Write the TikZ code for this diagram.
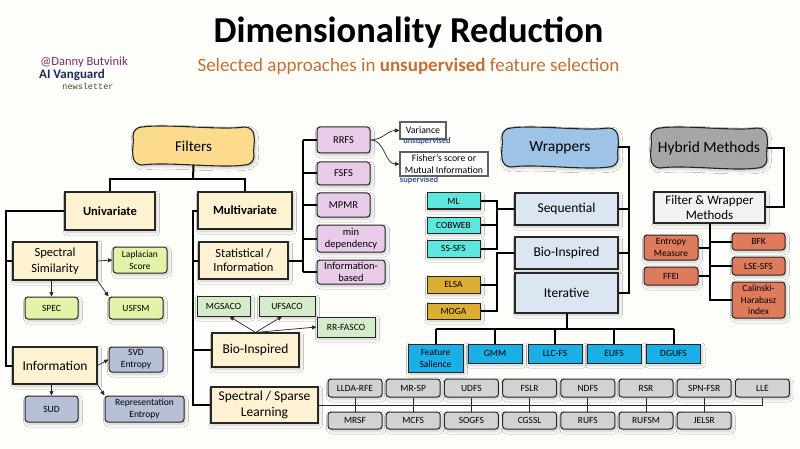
\documentclass[tikz,border=0pt]{standalone}
\usepackage{fontspec}
\setmainfont{Carlito}
\newfontfamily\newsfont{Liberation Mono}
\usetikzlibrary{arrows.meta,shadows.blur}

\definecolor{pagebg}{HTML}{FDFDFA}
\definecolor{filtyel}{HTML}{FCDC8C}
\definecolor{cream}{HTML}{FFF2D2}
\definecolor{limegr}{HTML}{E2F4A8}
\definecolor{slate}{HTML}{B6BFD6}
\definecolor{lilac}{HTML}{E8CBE8}
\definecolor{mint}{HTML}{D5ECCB}
\definecolor{aqua}{HTML}{5CE6DE}
\definecolor{gold}{HTML}{DCAE34}
\definecolor{paleblue}{HTML}{DCE6F2}
\definecolor{wrapblue}{HTML}{9DC3E6}
\definecolor{skyblue}{HTML}{1AAFE6}
\definecolor{hybgray}{HTML}{A6A6A6}
\definecolor{fwgray}{HTML}{F2F2F2}
\definecolor{coral}{HTML}{DE7B5C}
\definecolor{lgray}{HTML}{D2D2D2}
\definecolor{subtit}{HTML}{C47032}
\definecolor{danny}{HTML}{7A2B5C}
\definecolor{vanguard}{HTML}{1F2A5C}
\definecolor{newsbrown}{HTML}{5A4030}
\definecolor{labblue}{HTML}{325A8C}

\tikzset{
  shade box/.style={blur shadow={shadow blur steps=6, shadow xshift=1.5pt, shadow yshift=-2pt, shadow opacity=22, shadow blur radius=3pt}},
  box/.style={draw=black!85, line width=1.1pt, fill=cream, inner sep=1pt, align=center,
    font=\fontsize{12.5}{16}\selectfont, shade box},
  boldbox/.style={box, font=\bfseries\fontsize{12.5}{15}\selectfont},
  wavytext/.style={inner sep=1pt, font=\fontsize{15.5}{18}\selectfont},
  wavyline/.style={draw=black!85, line width=1.1pt, shade box},
  leaf/.style={draw=black!85, line width=1pt, rounded corners=3pt, inner sep=1pt, align=center,
    font=\fontsize{9.5}{12}\selectfont, shade box},
  leafsq/.style={leaf, rounded corners=0pt},
  gbox/.style={leaf, fill=lgray, minimum width=54, minimum height=18},
  note/.style={draw=gray!75!black, line width=1.1pt, fill=white, inner sep=1pt, align=center,
    font=\fontsize{9.8}{11.5}\selectfont},
  lbl/.style={text=labblue, font=\bfseries\fontsize{8.5}{10}\selectfont, inner sep=0pt},
  tree/.style={line width=2pt, black},
  thin line/.style={line width=0.9pt, black!85},
  arr/.style={-{Triangle[length=4.5pt,width=4pt]}, line width=0.7pt, black!85}
}

% hand drawn frame: centre x, centre y, width, height, fill
\newcommand{\wavyframe}[5]{%
  \filldraw[wavyline, fill=#5]
    ({#1-#3/2+9},{#2-#4/2})
      .. controls +(25pt,3.5pt) and +(-25pt,-3.5pt) .. ({#1+#3/2-9},{#2-#4/2})
      .. controls +(5pt,0pt) and +(0pt,5pt) .. ({#1+#3/2},{#2-#4/2+9})
      .. controls +(1.5pt,-6pt) and +(-1.5pt,6pt) .. ({#1+#3/2},{#2+#4/2-9})
      .. controls +(0pt,-5pt) and +(5pt,0pt) .. ({#1+#3/2-9},{#2+#4/2})
      .. controls +(-25pt,-3.5pt) and +(25pt,3.5pt) .. ({#1-#3/2+9},{#2+#4/2})
      .. controls +(-5pt,0pt) and +(0pt,-5pt) .. ({#1-#3/2},{#2+#4/2-9})
      .. controls +(-1.5pt,6pt) and +(1.5pt,-6pt) .. ({#1-#3/2},{#2-#4/2+9})
      .. controls +(0pt,5pt) and +(-5pt,0pt) .. ({#1-#3/2+9},{#2-#4/2}) -- cycle;}

\begin{document}
\begin{tikzpicture}[x=1pt,y=-1pt]
\fill[pagebg] (0,0) rectangle (800,449);
\useasboundingbox (0,0) rectangle (800,449);

% Titel
\node[anchor=base, font=\bfseries\fontsize{36.5}{40}\selectfont] (title) at (408.5,43) {Dimensionality Reduction};
\node[anchor=base, text=subtit, font=\fontsize{19}{22}\selectfont] (subtitle) at (408.5,72)
  {Selected approaches in \textbf{unsupervised} feature selection};
\node[text=danny, font=\fontsize{12.5}{14}\selectfont, inner sep=0pt] (author) at (84,62) {@Danny Butvinik};
\node[text=vanguard, font=\bfseries\fontsize{13}{15}\selectfont, inner sep=0pt] (vang) at (72,75) {AI Vanguard};
\node[text=newsbrown, font=\newsfont\fontsize{8.5}{10}\selectfont, inner sep=0pt] (news) at (88,86) {newsletter};

% Filters
\wavyframe{193.5}{146}{121}{38}{filtyel}
\node[wavytext, font=\fontsize{15}{18}\selectfont, minimum width=121, minimum height=38] (filt) at (193.5,146) {Filters};
\node[boldbox, minimum width=90, minimum height=38] (uni) at (110,211) {Univariate};
\node[boldbox, minimum width=94, minimum height=37] (multi) at (245,210.5) {Multivariate};

\node[box, minimum width=84, minimum height=38] (spec) at (55,261) {Spectral\\Similarity};
\node[leaf, fill=limegr, minimum width=54, minimum height=26] (lapl) at (140,260) {Laplacian\\Score};
\node[leaf, fill=limegr, minimum width=53, minimum height=22] (spc) at (51.5,308) {SPEC};
\node[leaf, fill=limegr, minimum width=54, minimum height=22] (usf) at (136,308) {USFSM};

\node[box, font=\fontsize{13.5}{16}\selectfont, minimum width=84, minimum height=37] (info) at (55,365.5) {Information};
\node[leaf, fill=slate, minimum width=54, minimum height=25] (svd) at (136,359.5) {SVD\\Entropy};
\node[leaf, fill=slate, minimum width=53, minimum height=26] (sud) at (51.5,409) {SUD};
\node[leaf, fill=slate, minimum width=79, minimum height=26] (rep) at (144.5,409) {Representation\\Entropy};

\node[box, font=\fontsize{12.5}{14}\selectfont, minimum width=89, minimum height=37] (stat) at (243.5,260.5) {Statistical /\\Information};
\node[leaf, fill=lilac, font=\fontsize{10.5}{12}\selectfont, minimum width=53, minimum height=26] (rrfs) at (343.5,140) {RRFS};
\node[leaf, fill=lilac, font=\fontsize{10.5}{12}\selectfont, minimum width=53, minimum height=23] (fsfs) at (343.5,173.5) {FSFS};
\node[leaf, fill=lilac, font=\fontsize{10.5}{12}\selectfont, minimum width=53, minimum height=24] (mpmr) at (343.5,205) {MPMR};
\node[leaf, fill=lilac, font=\fontsize{10.5}{12}\selectfont, minimum width=68, minimum height=27] (mind) at (351,238.5) {min\\dependency};
\node[leaf, fill=lilac, font=\fontsize{10.5}{12}\selectfont, minimum width=68, minimum height=24] (ibased) at (351,272) {Information-\\based};

\node[note, minimum width=46, minimum height=17] (var) at (423,130.5) {Variance};
\node[lbl] (unsup) at (427,141.5) {unsupervised};
\node[note, minimum width=88, minimum height=24] (fish) at (444,164) {Fisher's score or\\Mutual Information};
\node[lbl] (sup) at (419,180.5) {supervised};

\node[box, font=\fontsize{13.5}{16}\selectfont, minimum width=87, minimum height=34] (bioL) at (255.5,350) {Bio-Inspired};
\node[leafsq, fill=mint, minimum width=53, minimum height=20] (mgs) at (223.5,306) {MGSACO};
\node[leafsq, fill=mint, minimum width=56, minimum height=20] (ufs) at (287,306) {UFSACO};
\node[leafsq, fill=mint, minimum width=58, minimum height=20] (rrf) at (346,327) {RR-FASCO};

\node[box, font=\fontsize{13.5}{16}\selectfont, minimum width=107, minimum height=36] (sparse) at (264.5,405) {Spectral / Sparse\\Learning};
\foreach \ga/\gb [count=\i from 0] in {LLDA-RFE/MRSF, MR-SP/MCFS, UDFS/SOGFS, FSLR/CGSSL, NDFS/RUFS, RSR/RUFSM, SPN-FSR/JELSR}{
  \node[gbox] (t\i) at ({355+58.2*\i},388) {\ga};
  \node[gbox, minimum height=17] (b\i) at ({355+58.2*\i},420.5) {\gb};
}
\node[gbox] (lle) at (762.4,388) {LLE};

% Wrappers
\wavyframe{560}{147.5}{116}{39}{wrapblue}
\node[wavytext, minimum width=116, minimum height=39] (wrap) at (560,147.5) {Wrappers};
\node[box, fill=paleblue, font=\fontsize{13.5}{16}\selectfont, minimum width=103, minimum height=32] (seq) at (566.5,209) {Sequential};
\node[box, fill=paleblue, font=\fontsize{13.5}{16}\selectfont, minimum width=103, minimum height=32] (bioR) at (566.5,253) {Bio-Inspired};
\node[box, fill=paleblue, font=\fontsize{13.5}{16}\selectfont, minimum width=103, minimum height=40] (iter) at (566.5,293) {Iterative};

\node[leafsq, fill=aqua, minimum width=53, minimum height=16] (ml) at (453.5,201) {ML};
\node[leafsq, fill=aqua, minimum width=53, minimum height=16] (cob) at (453.5,225) {COBWEB};
\node[leafsq, fill=aqua, minimum width=53, minimum height=17] (ssf) at (453.5,248.5) {SS-SFS};
\node[leafsq, fill=gold, minimum width=53, minimum height=17] (elsa) at (453.5,284.5) {ELSA};
\node[leafsq, fill=gold, minimum width=53, minimum height=16] (moga) at (453.5,311) {MOGA};

\node[leafsq, fill=skyblue, minimum width=55, minimum height=28] (fsal) at (435.5,358) {Feature\\Salience};
\foreach \n/\t/\x in {gmm/GMM/495, llc/LLC-FS/555, eufs/EUFS/614, dgu/DGUFS/673.5}
  \node[leafsq, fill=skyblue, minimum width=54, minimum height=19] (\n) at (\x,353.5) {\t};

% Hybrid
\wavyframe{709}{148}{116}{40}{hybgray}
\node[wavytext, minimum width=116, minimum height=40] (hyb) at (709,148) {Hybrid Methods};
\node[box, fill=fwgray, font=\fontsize{13}{15}\selectfont, minimum width=111, minimum height=31] (fw) at (709.5,207.5) {Filter \& Wrapper\\Methods};
\node[leaf, fill=coral, minimum width=54, minimum height=25] (entm) at (671,247.5) {Entropy\\Measure};
\node[leaf, fill=coral, minimum width=54, minimum height=18] (ffei) at (671,276) {FFEI};
\node[leaf, fill=coral, minimum width=53, minimum height=17] (bfk) at (758.5,241.5) {BFK};
\node[leaf, fill=coral, minimum width=53, minimum height=18] (lse) at (758.5,266) {LSE-SFS};
\node[leaf, fill=coral, font=\fontsize{9.5}{11.5}\selectfont, minimum width=53, minimum height=36] (cal) at (758.5,300) {Calinski-\\Harabasz\\index};

% Verbindungen Filters
\coordinate (fj) at (193,179);
\coordinate (mx) at (193,0);
\coordinate (px) at (303,0);
\draw[tree] (filt.south) -- (fj);
\draw[tree] (uni.north) |- (fj) -| (multi.north);
\draw[tree] (uni.west) -| ([xshift=-6]info.west) -- (info.west);
\draw[tree] (spec.west) -- ++(-6,0);
\draw[tree] (multi.west) -| (sparse.west -| mx) -- (sparse.west);
\draw[tree] (stat.west) -- (stat.west -| mx);
\draw[tree] (bioL.west) -- (bioL.west -| mx);
\draw[tree] (stat.east) -- (stat.east -| px);
\draw[tree] (rrfs.west -| px) -- (ibased.west -| px);
\foreach \n in {rrfs,fsfs,mpmr,mind,ibased}
  \draw[tree] (\n.west) -- (\n.west -| px);

\draw[arr] (spec.east) -- (lapl.west);
\draw[arr] (spc.north |- spec.south) -- (spc.north);
\draw[arr] (spec.south east) -- (usf.north west);
\draw[arr] (info.east) -- (svd.west);
\draw[arr] (sud.north |- info.south) -- (sud.north);
\draw[arr] (info.south east) -- (rep.north west);

\draw[arr] (rrfs.east) to[out=0, in=180] (var.west);
\draw[arr] (rrfs.east) to[out=0, in=180] (fish.west);

\draw[arr] (bioL.north) -- ([xshift=6]mgs.south);
\draw[arr] (bioL.north) -- ([xshift=-5]ufs.south);
\draw[arr] (bioL.north) -- (rrf.west);

\draw[thin line] (sparse.east) -- (lle.south |- sparse.east) -- (lle.south);
\foreach \i in {0,...,6}
  \draw[thin line] (t\i.south) -- (b\i.north);

% Verbindungen Wrappers
\coordinate (cx) at (497,0);
\draw[tree] (wrap.east) -| ([xshift=10]iter.east) -- (iter.east);
\draw[tree] (seq.east) -- ++(10,0);
\draw[tree] (bioR.east) -- ++(10,0);
\draw[tree] (ml.east) -- (ml.east -| cx) -- (ssf.east -| cx) -- (ssf.east);
\draw[tree] (cob.east) -- (cob.east -| cx);
\draw[tree] (seq.west -| cx) -- (seq.west);
\draw[tree] (bioR.west) -- (bioR.west -| cx) -- (moga.east -| cx) -- (moga.east);
\draw[tree] (elsa.east) -- (elsa.east -| cx);

\coordinate (ij) at (566.5,329);
\draw[tree] (iter.south) -- (ij);
\draw[tree] (fsal.north |- ij) -- (dgu.north |- ij);
\foreach \n in {fsal,gmm,llc,eufs,dgu}
  \draw[tree] (\n.north) -- (\n.north |- ij);

% Verbindungen Hybrid
\draw[tree] (hyb.east) -| ([xshift=18]fw.east) -- (fw.east);
\draw[tree] (fw.south) -- (fw.south |- cal.west) -- (cal.west);
\draw[tree] (entm.east) -- (entm.east -| fw.south);
\draw[tree] (ffei.east) -- (ffei.east -| fw.south);
\draw[tree] (bfk.west) -- (bfk.west -| fw.south);
\draw[tree] (lse.west) -- (lse.west -| fw.south);
\end{tikzpicture}
\end{document}
